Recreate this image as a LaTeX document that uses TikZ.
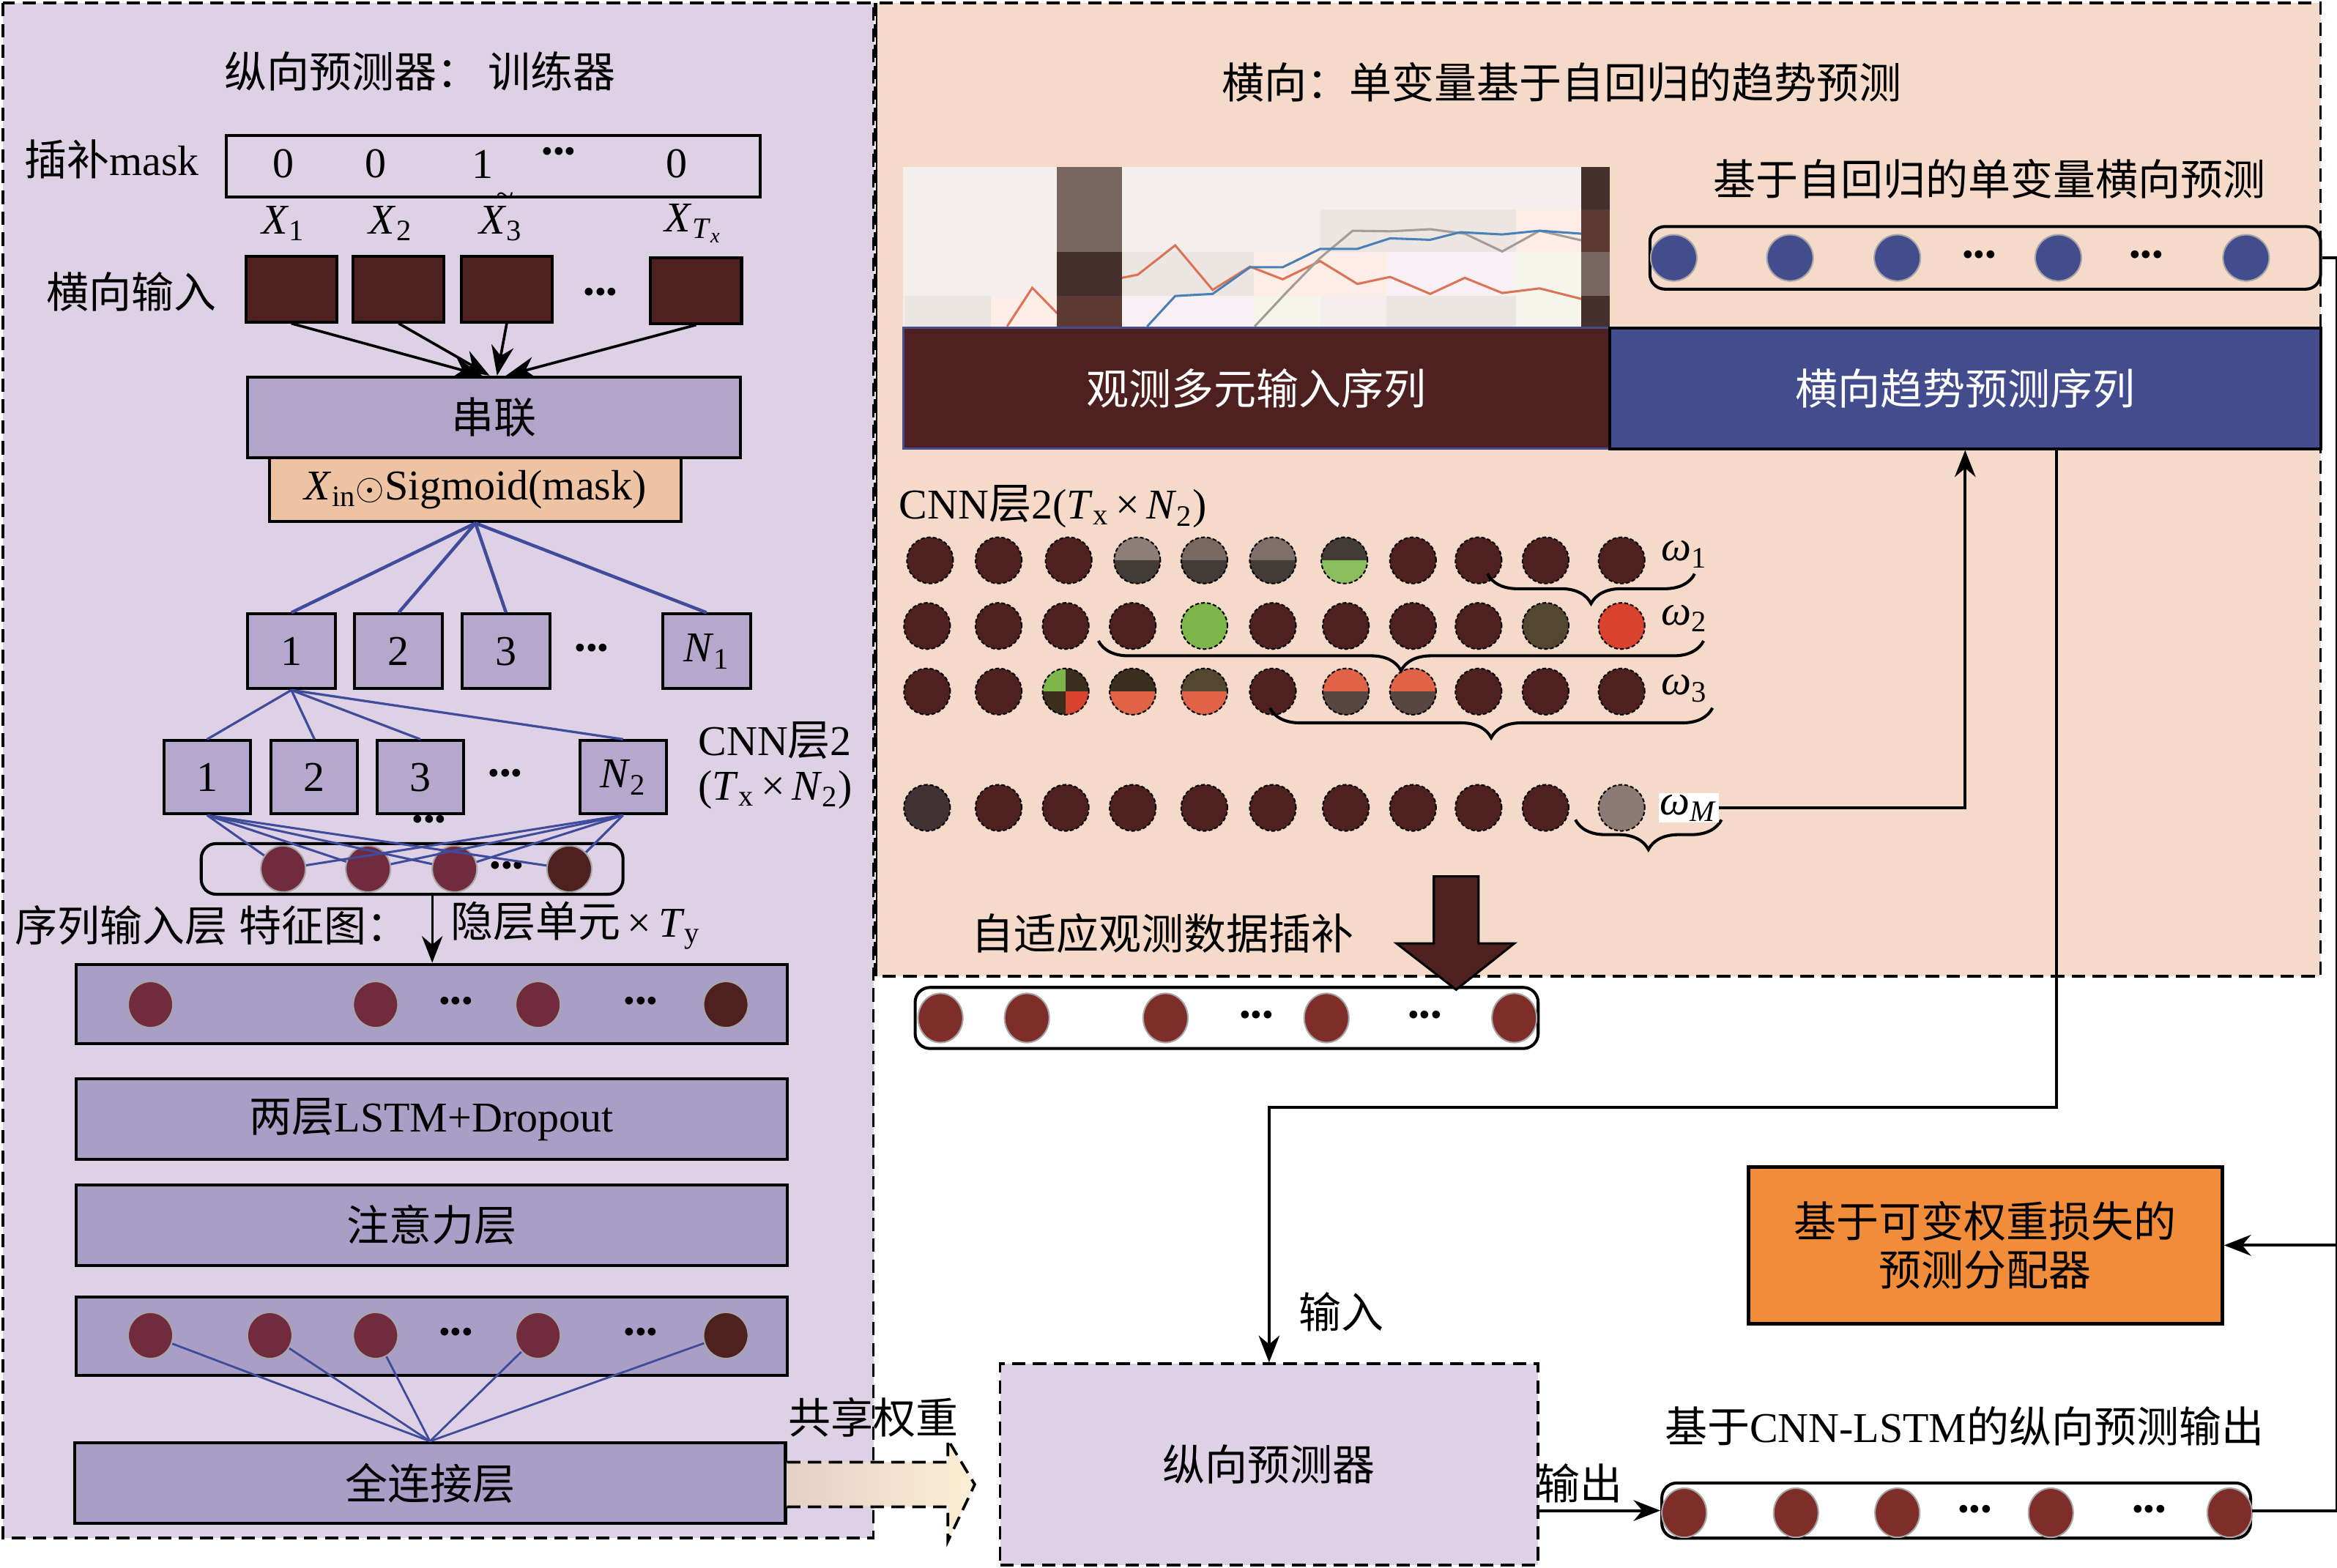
\documentclass[tikz,border=0pt]{standalone}
\usepackage{fontspec}
\setmainfont{Liberation Serif}
\newfontfamily\cjk{Noto Sans CJK SC}
\usetikzlibrary{positioning, calc, arrows.meta, shapes.geometric, decorations.pathreplacing}

\definecolor{lilacbg}{HTML}{DFD1E5}
\definecolor{peachbg}{HTML}{F5DACA}
\definecolor{layerfill}{HTML}{A99FC6}
\definecolor{convfill}{HTML}{B5A8CC}
\definecolor{catfill}{HTML}{B2A5CA}
\definecolor{gatefill}{HTML}{EDC3A3}
\definecolor{darkbrown}{HTML}{4E2120}
\definecolor{plum}{HTML}{722A3E}
\definecolor{brick}{HTML}{7E2D28}
\definecolor{navy}{HTML}{434C8C}
\definecolor{wire}{HTML}{3F4B9B}
\definecolor{allocfill}{HTML}{F08C3A}
\definecolor{sharefillA}{HTML}{E6D0C6}
\definecolor{sharefillB}{HTML}{FCEFD4}
\definecolor{cellgreyA}{HTML}{8D7E78}
\definecolor{cellgreyB}{HTML}{786860}
\definecolor{cellsoot}{HTML}{433B36}
\definecolor{cellgreen}{HTML}{7DB74B}
\definecolor{cellolive}{HTML}{534730}
\definecolor{cellred}{HTML}{D8422E}
\definecolor{cellcoal}{HTML}{3A2E1E}
\definecolor{cellorange}{HTML}{E06347}
\definecolor{cellmud}{HTML}{574642}
\definecolor{cellash}{HTML}{8C7B74}
\definecolor{cellink}{HTML}{413233}
\definecolor{chartbg}{HTML}{F4EFEC}
\definecolor{chartgrey}{HTML}{EBE6E2}
\definecolor{chartpink}{HTML}{FCEDE6}
\definecolor{chartlav}{HTML}{F8F0F4}
\definecolor{chartcream}{HTML}{F6F5EB}
\definecolor{bandA}{HTML}{776760}
\definecolor{bandB}{HTML}{45302D}
\definecolor{bandC}{HTML}{5C3A33}
\definecolor{trendred}{HTML}{DD7355}
\definecolor{trendblue}{HTML}{4A80B8}
\definecolor{trendgrey}{HTML}{A39C98}

\begin{document}
\begin{tikzpicture}[
    x=1pt, y=-1pt,
    % Styling
    base font/.style={font=\fontsize{28.5}{32}\selectfont},
    label text/.style={base font, inner sep=0pt},
    dot row/.style={font=\fontsize{22}{24}\selectfont, inner sep=0pt},
    panel/.style={draw, line width=1.8pt, dash pattern=on 9pt off 5pt},
    % Layer bars of the CNN-LSTM
    layer box/.style={
        draw,
        line width=2pt,
        fill=layerfill,
        minimum width=477pt,
        minimum height=54pt,
        inner sep=0pt,
        base font
    },
    small box/.style={
        draw,
        line width=2pt,
        fill=convfill,
        minimum width=59pt,
        minimum height=50pt,
        inner sep=0pt,
        base font
    },
    in box/.style={draw, line width=2pt, fill=darkbrown, minimum width=61pt, minimum height=44pt, inner sep=0pt},
    seq frame/.style={draw, line width=2pt, rounded corners=10pt, inner sep=0pt},
    neuron/.style={ellipse, draw=gray!70, line width=1pt, fill=plum, minimum width=30pt, minimum height=31pt, inner sep=0pt},
    % Cells of the CNN feature map
    wcell/.style={
        ellipse,
        draw=black,
        dash pattern=on 2.5pt off 1.5pt,
        line width=1pt,
        fill=darkbrown,
        minimum width=31pt,
        minimum height=31pt,
        inner sep=0pt
    },
    split cell/.style 2 args={path picture={
        \fill[#1] (path picture bounding box.north west) rectangle (path picture bounding box.east);
        \fill[#2] (path picture bounding box.west) rectangle (path picture bounding box.south east);}},
    dk/.style={},
    gA/.style={split cell={cellgreyA}{cellsoot}},
    gB/.style={split cell={cellgreyB}{cellsoot}},
    gC/.style={split cell={cellgreyB!95!white}{cellsoot}},
    gD/.style={split cell={cellsoot}{cellgreen!90!white}},
    gr/.style={fill=cellgreen},
    ol/.style={fill=cellolive},
    rd/.style={fill=cellred},
    qd/.style={path picture={
        \fill[cellgreen] (path picture bounding box.north west) rectangle (path picture bounding box.center);
        \fill[cellcoal] (path picture bounding box.north) rectangle (path picture bounding box.east);
        \fill[cellcoal] (path picture bounding box.west) rectangle (path picture bounding box.south);
        \fill[cellred] (path picture bounding box.center) rectangle (path picture bounding box.south east);}},
    rA/.style={split cell={cellcoal}{cellorange}},
    rB/.style={split cell={cellolive}{cellorange}},
    oA/.style={split cell={cellorange}{cellmud}},
    pm/.style={fill=cellink},
    gy/.style={fill=cellash},
    wire line/.style={draw=wire, line width=2.2pt},
    brace line/.style={decorate, decoration={brace, mirror, amplitude=20pt}, line width=2pt},
    arrow style/.style={-{Stealth[length=18pt, width=14pt]}, line width=2pt}
]

\useasboundingbox (0,0) rectangle (1568,1052);

% --- Panels ---
\draw[panel, fill=lilacbg] (2,2) rectangle (586,1032);
\draw[panel, fill=peachbg] (587,2) rectangle (1557,655);
\draw[line width=1pt] (588,2) -- (588,655);

% --- Left panel: trainer ---
\node[label text] (title-l) at (282,48) {\cjk 纵向预测器：\hspace{6pt}训练器};

\node[label text] (mask-lab) at (75,107) {{\cjk 插补}mask};
\node[draw, line width=2pt, minimum width=358pt, minimum height=41pt, inner sep=0pt] (mask) at (331,111.5) {};
\foreach \x/\v [count=\i] in {190/0, 252/0, 324/1, 454/0}
    \node[label text] (m-\i) at (\x,110) {\v};
\node[dot row] (m-dots) at (375,104) {•••};

\node[label text] (x-1) at (190,150) {\textit{X}\textsubscript{1}};
\node[label text] (x-2) at (262,150) {\textit{X}\textsubscript{2}};
\node[label text] (x-3) at (336,150) {\textit{X}\textsubscript{3}};
\node[inner sep=0pt, font=\fontsize{22}{22}\selectfont] (x-3-tilde) at (339,134) {\textasciitilde};
\node[label text] (x-4) at (465,150) {\textit{X}\textsubscript{\textit{T}\textsubscript{\textit{x}}}};

\node[label text] (in-lab) at (88,196) {\cjk 横向输入};
\foreach \x [count=\i] in {195.5, 267.5, 340}
    \node[in box] (in-\i) at (\x,194) {};
\node[in box] (in-4) at (467,195) {};
\node[dot row] (in-dots) at (403,198) {•••};

\node[layer box, fill=catfill, minimum width=331pt] (cat) at (331.5,280) {\cjk 串联};
\foreach \i/\dx in {1/-8, 2/-3, 3/2, 4/8}
    \draw[-{Stealth[length=20pt, width=15pt]}, line width=1.8pt] (in-\i.south) -- ([xshift=\dx pt]cat.north);

\node[draw, line width=2pt, fill=gatefill, minimum width=276pt, minimum height=43pt, inner sep=0pt, base font] (gate) at (319,328.5)
    {\textit{X}\textsubscript{in}$\odot$Sigmoid(mask)};

% CNN layer 1
\foreach \x/\t [count=\i] in {195.5/1, 267.5/2, 339.5/3, 474/\textit{N}\textsubscript{1}} {
    \node[small box] (c1-\i) at (\x,437) {\t};
    \draw[wire line] (gate.south) -- (c1-\i.north);
}
\node[dot row] (c1-dots) at (397,437) {•••};

% CNN layer 2
\foreach \x/\t [count=\i] in {139/1, 211/2, 282/3, 418/\textit{N}\textsubscript{2}} {
    \node[small box, minimum width=58pt, minimum height=49pt] (c2-\i) at (\x,521.5) {\t};
    \draw[wire line, line width=1.6pt] (c1-1.south) -- (c2-\i.north);
}
\node[dot row] (c2-dots) at (339,521) {•••};
\node[dot row] (c2-more) at (288,552) {•••};
\node[label text] (cnn-l1) at (520,497) {CNN{\cjk 层}2};
\node[label text] (cnn-l2) at (520,530) {(\textit{T}\textsubscript{x}\,×\,\textit{N}\textsubscript{2})};

% feature map
\node[seq frame, minimum width=283pt, minimum height=34pt] (fmap) at (276.5,583) {};
\foreach \x [count=\i] in {190, 247, 305}
    \node[neuron] (f-\i) at (\x,583) {};
\node[neuron, fill=darkbrown] (f-4) at (382,583) {};
\node[dot row] (f-dots) at (340,583) {•••};
\foreach \i in {1,...,4} {
    \draw[wire line, line width=1.5pt] (c2-1.south) -- (f-\i);
    \draw[wire line, line width=1.5pt] (c2-4.south) -- (f-\i);
}

\node[label text, anchor=west] (feat-lab) at (10,621) {\cjk 序列输入层\hspace{8pt}特征图：};
\node[label text, anchor=west] (hid-lab) at (302,621) {{\cjk 隐层单元}\,×\,\textit{T}\textsubscript{y}};

% sequence input layer
\node[layer box, minimum height=53pt] (seq-a) at (289.5,673.5) {};
\foreach \x [count=\i] in {101, 252, 361}
    \node[neuron] (a-\i) at (\x,674) {};
\node[neuron, fill=darkbrown] (a-4) at (487,674) {};
\node[dot row] (a-dots1) at (306,674) {•••};
\node[dot row] (a-dots2) at (430,674) {•••};
\coordinate (drop) at ([xshift=13.5pt]fmap.south);
\draw[arrow style, line width=1.6pt] (drop) -- (drop |- seq-a.north);

\node[layer box] (lstm) at (289.5,751) {{\cjk 两层}LSTM+Dropout};
\node[layer box] (attn) at (289.5,822) {\cjk 注意力层};

\node[layer box, minimum height=53pt] (seq-b) at (289.5,896.5) {};
\foreach \x [count=\i] in {101, 181, 252, 361}
    \node[neuron] (b-\i) at (\x,896) {};
\node[neuron, fill=darkbrown] (b-5) at (487,896) {};
\node[dot row] (b-dots1) at (306,896) {•••};
\node[dot row] (b-dots2) at (430,896) {•••};

\node[layer box] (fc) at (288.5,995) {\cjk 全连接层};
\foreach \i in {1,...,5}
    \draw[wire line, line width=1.4pt] (b-\i) -- (fc.north);

% shared weights
\node[label text] (share-lab) at (586,951) {\cjk 共享权重};
\path[left color=sharefillA, right color=sharefillB] (fc.east |- 0,981) -- (636,981) -- (636,966) -- (654,996) -- (636,1034) -- (636,1011) -- (fc.east |- 0,1011) -- cycle;
\draw[panel] (fc.east |- 0,981) -- (636,981) -- (636,966) -- (654,996) -- (636,1034) -- (636,1011) -- (fc.east |- 0,1011);

% --- Right panel: horizontal trend ---
\node[label text] (title-r) at (1048,55) {\cjk 横向：单变量基于自回归的趋势预测};

% chart
\fill[chartbg] (606,112) rectangle (1080,220);
\fill[chartgrey] (886,140.6) rectangle (1017,169);
\fill[chartpink] (1017,140.6) rectangle (1061,169);
\fill[chartgrey] (753,169) rectangle (841,198.6);
\fill[chartpink] (841,169) rectangle (930,198.6);
\fill[chartlav] (930,169) rectangle (1017,198.6);
\fill[chartcream] (1017,169) rectangle (1061,219);
\fill[chartgrey] (607,198.6) rectangle (665,219);
\fill[chartpink] (665,198.6) rectangle (709,219);
\fill[chartlav] (753,198.6) rectangle (841,219);
\fill[chartcream] (841,198.6) rectangle (886,219);
\fill[chartgrey] (930,198.6) rectangle (1017,219);
\draw[trendred, line width=1.5pt] (675.7,219) -- (692.6,193.1) -- (708.9,209.8) -- (752.8,186.4) -- (763.4,184.3) -- (788.5,164.6) -- (813.6,194.5) -- (838.7,178.9) -- (860.6,187.4) -- (885.7,175.2) -- (910.7,190.5) -- (932.7,185.8) -- (959.6,197.2) -- (982.8,186.4) -- (1007.9,196.6) -- (1033,193.5) -- (1061.2,200.6);
\draw[trendgrey, line width=1.5pt] (841.8,219) -- (863.7,195.6) -- (885.7,173.1) -- (907.6,154.8) -- (932.7,155.2) -- (959.6,153.8) -- (982.8,156.8) -- (1007.9,168.7) -- (1033,154.8) -- (1061.2,161.3);
\draw[trendblue, line width=1.5pt] (769.7,219) -- (788.5,198.6) -- (813.6,197.2) -- (838.7,179.3) -- (860.6,179.3) -- (885.7,167) -- (910.7,167) -- (932.7,159.9) -- (959.6,160.9) -- (979.7,155.8) -- (1007.9,157.3) -- (1033,154.8) -- (1061.2,156.8);
\fill[bandA] (709,112) rectangle (753,169);
\fill[bandB] (709,169) rectangle (753,198.6);
\fill[bandC] (709,198.6) rectangle (753,220);
\fill[bandB] (1061,112) rectangle (1080,140.6);
\fill[bandC] (1061,140.6) rectangle (1080,169);
\fill[bandA] (1061,169) rectangle (1080,198.6);
\fill[bandB] (1061,198.6) rectangle (1080,220);

\node[draw=navy, line width=1.5pt, fill=darkbrown, minimum width=474pt, minimum height=81pt, text=white, base font] (obs) at (843,260.5) {\cjk 观测多元输入序列};
\node[draw=black, line width=2pt, fill=navy, minimum width=477pt, minimum height=81pt, text=white, base font] (trend) at (1318.5,260.5) {\cjk 横向趋势预测序列};

\node[label text] (ar-lab) at (1335,120) {\cjk 基于自回归的单变量横向预测};
\node[seq frame, minimum width=450pt, minimum height=42pt] (ar-row) at (1332,173) {};
\foreach \x [count=\i] in {1123, 1201, 1273, 1381, 1507}
    \node[neuron, fill=navy, minimum width=31pt] (ar-\i) at (\x,173) {};
\node[dot row] (ar-dots1) at (1328,173) {•••};
\node[dot row] (ar-dots2) at (1440,173) {•••};

\node[label text, anchor=west] (cnn-lab) at (603,340) {CNN{\cjk 层}2(\textit{T}\textsubscript{x}\,×\,\textit{N}\textsubscript{2})};

% CNN layer 2 cells, one row per weight
\foreach \x/\s [count=\c] in {624/dk, 670/dk, 717/dk, 763/gA, 808/gB, 854/gC, 902/gD, 948/dk, 992/dk, 1037/dk, 1088/dk}
    \node[wcell, \s] (w1-\c) at (\x,376) {};
\foreach \x/\s [count=\c] in {622/dk, 670/dk, 715/dk, 760/dk, 808/gr, 854/dk, 903/dk, 948/dk, 992/dk, 1037/ol, 1088/rd}
    \node[wcell, \s] (w2-\c) at (\x,420) {};
\foreach \x/\s [count=\c] in {622/dk, 670/dk, 715/qd, 760/rA, 808/rB, 854/dk, 903/oA, 948/oA, 992/dk, 1037/dk, 1088/dk}
    \node[wcell, \s] (w3-\c) at (\x,464) {};
\foreach \x/\s [count=\c] in {622/pm, 670/dk, 715/dk, 760/dk, 808/dk, 854/dk, 903/dk, 948/dk, 992/dk, 1037/dk, 1088/gy}
    \node[wcell, \s] (wm-\c) at (\x,542) {};

\draw[brace line] (998,385) -- (1137,385);
\draw[brace line] (737,430) -- (1143,430);
\draw[brace line] (852,475) -- (1149,475);
\draw[brace line] (1057,550) -- (1155,550);

\node[label text] (om-1) at (1130,372) {\textit{ω}\textsubscript{1}};
\node[label text] (om-2) at (1130,415) {\textit{ω}\textsubscript{2}};
\node[label text] (om-3) at (1130,462) {\textit{ω}\textsubscript{3}};
\node[label text, fill=white, inner sep=1pt] (om-4) at (1133,542) {\textit{ω}\textsubscript{\textit{M}}};
\draw[arrow style] (om-4.east) -| (trend.south);

% imputation
\node[label text] (imp-lab) at (780,626) {\cjk 自适应观测数据插补};
\node[seq frame, fill=white, minimum width=418pt, minimum height=41pt] (imp) at (823,683) {};
\foreach \x [count=\i] in {631, 689, 782, 890, 1016}
    \node[neuron, fill=brick, minimum height=33pt] (imp-\i) at (\x,683) {};
\node[dot row] (imp-dots1) at (843,683) {•••};
\node[dot row] (imp-dots2) at (956,683) {•••};
\draw[line width=1.5pt, fill=darkbrown] (962,588) -- (992,588) -- (992,633) -- (1016,633) -- (977,664) -- (937,633) -- (962,633) -- cycle;

% --- Bottom: predictor, output, allocator ---
\node[panel, fill=lilacbg, minimum width=361pt, minimum height=135pt, base font] (pred) at (851.5,982.5) {\cjk 纵向预测器};
\node[label text] (out-lab) at (1318,957) {{\cjk 基于}CNN-LSTM{\cjk 的纵向预测输出}};
\node[seq frame, fill=white, minimum width=395pt, minimum height=37pt] (out) at (1312.5,1013.5) {};
\foreach \x [count=\i] in {1130, 1205, 1273, 1376, 1496}
    \node[neuron, fill=brick, minimum height=33pt] (out-\i) at (\x,1015) {};
\node[dot row] (out-dots1) at (1325,1015) {•••};
\node[dot row] (out-dots2) at (1442,1015) {•••};
\draw[arrow style] (pred.east |- out.west) -- (out.west);
\node[label text] (out-word) at (1060,995) {\cjk 输出};

\node[draw, line width=2.5pt, fill=allocfill, minimum width=318pt, minimum height=105pt, align=center, font=\fontsize{28.5}{32}\selectfont\cjk] (alloc) at (1332,835.5) {基于可变权重损失的\\预测分配器};

\coordinate (rail) at ([xshift=10pt]ar-row.east);
\draw[line width=2pt] (ar-row.east) -- (rail) |- (out.east);
\draw[arrow style] (rail |- alloc.east) -- (alloc.east);

\coordinate (bend) at (1380,743);
\draw[arrow style] (trend.south -| bend) -- (bend) -| (pred.north);
\node[label text] (in-word) at (900,880) {\cjk 输入};

\end{tikzpicture}
\end{document}
